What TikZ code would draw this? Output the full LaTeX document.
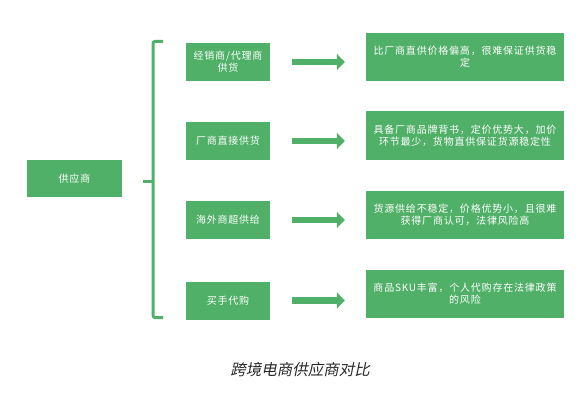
\documentclass[tikz,border=0pt]{standalone}
\usepackage{fontspec}
\usetikzlibrary{arrows.meta}
\newfontfamily\cjk[LetterSpace=8]{Noto Sans CJK SC}
\newfontfamily\capfont[FakeSlant=0.2]{Noto Sans CJK SC}
\definecolor{boxgreen}{RGB}{80,176,104}
\definecolor{captiongray}{RGB}{40,40,40}
\tikzset{
  greenbox/.style={fill=boxgreen, draw=none, text=white, inner sep=0pt,
    align=center, font=\cjk\fontsize{10}{12}\selectfont},
  midbox/.style={greenbox, minimum width=84pt, minimum height=38pt},
  rightbox/.style={greenbox, minimum width=198pt, minimum height=48pt},
  fatarrow/.style={boxgreen, line width=6.5pt,
    -{Triangle[width=16pt,length=8pt]}, shorten <=22pt, shorten >=21pt},
  bracket/.style={boxgreen, line width=3pt, rounded corners=2pt}
}
\begin{document}
\begin{tikzpicture}[x=1pt,y=-1pt]
\useasboundingbox (0,0) rectangle (579,404);

\node[greenbox, minimum width=95pt, minimum height=37pt] (s) at (74.5,178.5) {供应商};

\node[midbox] (m1) at (228,62) {经销商/代理商\\供货};
\node[midbox] (m2) at (228,141) {厂商直接供货};
\node[midbox] (m3) at (228,220) {海外商超供给};
\node[midbox] (m4) at (228,300.5) {买手代购};

\node[rightbox] (r1) at (465,57) {比厂商直供价格偏高，很难保证供货稳\\定};
\node[rightbox, minimum height=49pt] (r2) at (465,135.5) {具备厂商品牌背书，定价优势大，加价\\环节最少，货物直供保证货源稳定性};
\node[rightbox] (r3) at (465,215) {货源供给不稳定，价格优势小，且很难\\获得厂商认可，法律风险高};
\node[rightbox] (r4) at (465,294) {商品SKU丰富，个人代购存在法律政策\\的风险};

% bracket
\coordinate (btop) at (163,41.5);
\coordinate (bbot) at (163,317.5);
\coordinate (bmid) at (153,181);
\coordinate (btick) at (143,181);
\draw[bracket] (btop) -- (153,41.5) -- (153,317.5) -- (bbot);
\draw[boxgreen, line width=3pt] (btick) -- (bmid);

% arrows
\foreach \i in {1,2,3,4}{
  \draw[fatarrow] (m\i.east) -- (m\i.east -| r\i.west);
}

\node[text=captiongray, font=\capfont\fontsize{15.5}{18}\selectfont] (cap) at (300,370) {跨境电商供应商对比};
\end{tikzpicture}
\end{document}
